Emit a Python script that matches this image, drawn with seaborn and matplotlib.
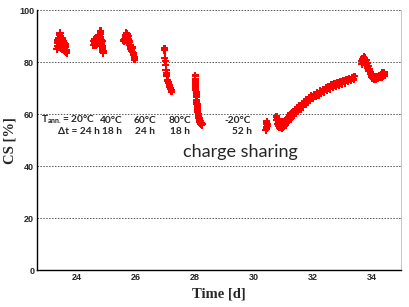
import pandas as pd
import matplotlib
matplotlib.use("Agg")
import matplotlib.pyplot as plt
import seaborn as sns
from matplotlib.ticker import MultipleLocator

# --- data ---
t_20C = [23.32, 23.33, 23.35, 23.36, 23.38, 23.39, 23.40, 23.41, 23.42, 23.43, 23.44, 23.45,
         23.46, 23.47, 23.48, 23.49, 23.50, 23.51, 23.52, 23.53, 23.54, 23.55, 23.56, 23.57,
         23.58, 23.59, 23.60, 23.61, 23.62, 23.64, 23.65, 23.66]
cs_20C = [85.0, 87.5, 86.2, 88.4, 85.6, 89.3, 87.0, 90.4, 86.1, 91.2, 88.2, 89.9,
          85.3, 87.6, 89.0, 86.4, 88.5, 84.8, 87.2, 89.1, 85.9, 88.0, 86.7, 84.6,
          87.4, 85.5, 86.8, 84.2, 85.7, 83.8, 84.5, 83.4]

t_40C = [24.57, 24.58, 24.60, 24.61, 24.63, 24.64, 24.66, 24.67, 24.69, 24.70, 24.72, 24.73,
         24.75, 24.76, 24.78, 24.79, 24.80, 24.81, 24.82, 24.83, 24.85, 24.86, 24.87, 24.88,
         24.89, 24.90]
cs_40C = [86.5, 88.0, 87.2, 89.0, 86.3, 88.4, 87.6, 89.5, 86.9, 88.8, 87.4, 89.9,
          88.1, 90.3, 87.5, 91.0, 92.0, 89.4, 90.8, 88.6, 87.2, 86.3, 88.0, 85.2,
          84.1, 83.4]

t_60C = [25.58, 25.60, 25.62, 25.64, 25.66, 25.67, 25.68, 25.69, 25.70, 25.71, 25.72, 25.73,
         25.74, 25.75, 25.76, 25.77, 25.78, 25.79, 25.80, 25.82, 25.84, 25.86, 25.88, 25.90,
         25.92, 25.94, 25.95, 25.96]
cs_60C = [88.5, 88.1, 89.0, 88.3, 90.5, 89.2, 91.3, 90.0, 88.6, 90.8, 89.4, 88.0,
          90.1, 88.9, 87.5, 89.0, 87.8, 86.6, 88.2, 86.4, 85.2, 84.5, 85.6, 83.8,
          82.9, 83.5, 81.8, 81.0]

t_80C_a = [26.98, 26.98, 26.99, 27.01, 27.02, 27.03, 27.05, 27.06, 27.08, 27.10, 27.12, 27.14,
           27.16, 27.18, 27.20, 27.22]
cs_80C_a = [85.3, 84.6, 81.7, 80.4, 78.8, 76.9, 75.6, 74.6, 72.9, 72.4, 71.9, 71.2,
            70.5, 69.9, 69.2, 68.6]

t_80C_b = [28.02, 28.02, 28.03, 28.03, 28.04, 28.04, 28.05, 28.05, 28.06, 28.07, 28.07, 28.08,
           28.09, 28.09, 28.10, 28.11, 28.12, 28.13, 28.14, 28.15, 28.16, 28.17, 28.18, 28.19,
           28.20, 28.21, 28.22, 28.23, 28.24, 28.25]
cs_80C_b = [74.8, 73.5, 72.6, 71.4, 70.2, 69.5, 68.3, 67.4, 66.6, 65.5, 64.7, 63.9,
            63.0, 62.2, 61.5, 60.8, 60.1, 59.5, 58.9, 58.4, 57.9, 57.5, 57.0, 56.6,
            56.2, 57.3, 55.9, 56.5, 55.7, 56.1]

t_m20C = [30.42, 30.43, 30.44, 30.44, 30.45, 30.46, 30.47]
cs_m20C = [53.8, 55.0, 56.2, 54.5, 57.2, 56.0, 55.3]

t_rise = [30.78, 30.79, 30.80, 30.82, 30.84, 30.86, 30.88, 30.90, 30.92, 30.94, 30.96, 30.98,
          31.00, 31.02, 31.04, 31.06, 31.08, 31.10, 31.12, 31.15, 31.18, 31.21, 31.24, 31.27,
          31.30, 31.33, 31.36, 31.40, 31.44, 31.48, 31.52, 31.56, 31.60, 31.64, 31.68, 31.72,
          31.76, 31.80, 31.84, 31.88, 31.92, 31.96, 32.00, 32.05, 32.10, 32.15, 32.20, 32.25,
          32.30, 32.35, 32.40, 32.45, 32.50, 32.55, 32.60, 32.65, 32.70, 32.75, 32.80, 32.85,
          32.90, 32.95, 33.00, 33.05, 33.10, 33.15, 33.20, 33.25, 33.30, 33.35, 33.40, 33.43]
cs_rise = [59.0, 57.6, 56.3, 58.1, 55.4, 57.0, 54.9, 56.5, 55.0, 57.1, 54.6, 56.2,
           54.8, 56.7, 55.3, 57.4, 55.9, 57.9, 56.5, 58.6, 57.2, 59.3, 58.0, 60.2,
           58.8, 60.9, 59.6, 61.6, 60.3, 62.4, 61.0, 63.1, 61.8, 63.9, 62.7, 64.8,
           63.6, 65.6, 64.5, 66.3, 65.2, 67.0, 65.9, 67.7, 66.6, 68.4, 67.3, 69.0,
           67.9, 69.6, 68.5, 70.2, 69.1, 70.7, 69.6, 71.2, 70.1, 71.6, 70.6, 72.1,
           71.0, 72.5, 71.5, 72.9, 71.9, 73.3, 72.4, 73.8, 72.8, 74.2, 73.3, 74.6]

t_end = [33.66, 33.68, 33.70, 33.72, 33.74, 33.76, 33.78, 33.80, 33.82, 33.84, 33.86, 33.88,
         33.90, 33.92, 33.94, 33.96, 33.98, 34.00, 34.02, 34.04, 34.07, 34.10, 34.13, 34.16,
         34.19, 34.22, 34.25, 34.28, 34.31, 34.34, 34.37, 34.40, 34.43, 34.46]
cs_end = [80.5, 79.2, 81.3, 80.0, 82.0, 80.8, 81.6, 79.8, 80.9, 78.9, 79.6, 77.9,
          78.5, 76.8, 77.3, 75.6, 76.1, 74.5, 75.3, 73.8, 74.6, 73.5, 74.3, 73.4,
          74.4, 73.6, 74.7, 73.9, 75.0, 74.0, 75.8, 74.6, 76.0, 74.8]

anneal_temps = ["20°C", "40°C", "60°C", "80°C", "-20°C"]
anneal_times = ["24 h", "18 h", "24 h", "18 h", "52 h"]
temp_x = [23.70, 25.18, 26.30, 27.50, 29.45]
time_x = [24.07, 25.18, 26.30, 27.50, 29.60]

df = pd.DataFrame({
    "time": t_20C + t_40C + t_60C + t_80C_a + t_80C_b + t_m20C + t_rise + t_end,
    "cs": cs_20C + cs_40C + cs_60C + cs_80C_a + cs_80C_b + cs_m20C + cs_rise + cs_end,
})

sns.set_style("white")
plt.rcParams["mathtext.fontset"] = "custom"
plt.rcParams["mathtext.bf"] = "Lato:bold"
plt.rcParams["mathtext.rm"] = "Lato:bold"

fig = plt.figure(figsize=(4.09, 3.07), dpi=100)
ax = fig.add_axes([0.0905, 0.1205, 0.8895, 0.8465])

sns.scatterplot(ax=ax, data=df, x="time", y="cs", marker="P", s=26,
                color="#ff0000", edgecolor="none", linewidth=0, zorder=3)

ax.set_xlim(22.65, 35.0)
ax.set_ylim(0, 100)
ax.xaxis.set_major_locator(MultipleLocator(2))
ax.xaxis.set_minor_locator(MultipleLocator(0.5))
ax.yaxis.set_major_locator(MultipleLocator(20))
ax.yaxis.set_minor_locator(MultipleLocator(5))
ax.tick_params(axis="both", which="major", direction="in", length=5, width=0.8,
               labelsize=6.5, pad=2, color="#777777")
ax.tick_params(axis="both", which="minor", direction="in", length=3, width=0.6, color="#555555")
ax.tick_params(axis="x", which="both", top=False)
ax.tick_params(axis="y", which="both", right=False)
for lab in ax.get_xticklabels() + ax.get_yticklabels():
    lab.set_fontweight("bold")
    lab.set_family("Liberation Sans")

ax.yaxis.grid(True, linestyle=(0, (1.5, 1.5)), color="#555555", linewidth=0.7)
ax.xaxis.grid(False)
ax.spines["top"].set_visible(False)
ax.spines["right"].set_color("#bbbbbb")
ax.spines["right"].set_linewidth(0.6)
ax.spines["left"].set_color("black")
ax.spines["bottom"].set_color("black")
ax.spines["left"].set_linewidth(1.0)
ax.spines["bottom"].set_linewidth(1.0)

ax.set_xlabel("Time [d]", family="Liberation Serif", fontweight="bold", fontsize=10.5, labelpad=4)
ax.set_ylabel("CS [%]", family="Liberation Serif", fontweight="bold", fontsize=10.5, labelpad=2)

# annealing step labels
lab_kw = dict(ha="center", va="center", fontsize=7.3, fontweight="bold", family="Lato")
ax.text(temp_x[0], 57.7, r"T$_{\mathrm{ann.}}$= " + anneal_temps[0], **lab_kw)
ax.text(time_x[0], 53.2, "Δt = " + anneal_times[0], **lab_kw)
for i in range(1, len(anneal_temps)):
    ax.text(temp_x[i], 57.7, anneal_temps[i], **lab_kw)
    ax.text(time_x[i], 53.2, anneal_times[i], **lab_kw)

ax.text(29.55, 45.5, "charge sharing", ha="center", va="center", fontsize=13, family="Lato")

fig.savefig("out.png", dpi=100)
